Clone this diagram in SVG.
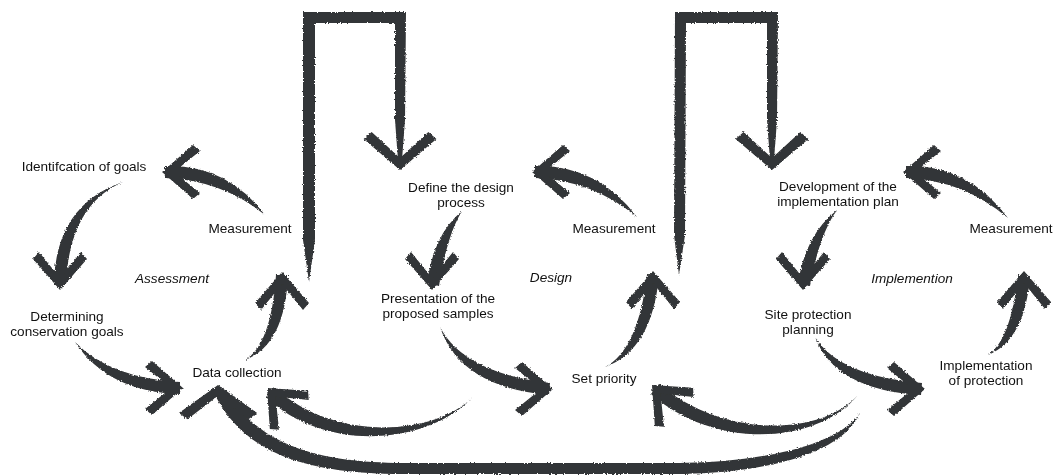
<svg xmlns="http://www.w3.org/2000/svg" width="1062" height="475" viewBox="0 0 1062 475">
<defs>
<style>
.lbl{font-family:"Liberation Sans",Arial,sans-serif;font-size:13.6px;fill:#111111;text-anchor:middle}
.it{font-style:italic}
.ink{fill:#333537}
</style>
<filter id="rough" filterUnits="userSpaceOnUse" x="0" y="0" width="1062" height="475">
<feTurbulence type="fractalNoise" baseFrequency="0.7" numOctaves="2" seed="3" result="n"/>
<feDisplacementMap in="SourceGraphic" in2="n" scale="3" xChannelSelector="R" yChannelSelector="G"/>
</filter>
<polygon id="chev" points="0,0 -31,-27 -38,-21 -12,0 -38,21 -31,27"/>
</defs>
<rect width="1062" height="475" fill="#ffffff"/>

<g id="connectors" class="ink" filter="url(#rough)">
<!-- big L arrows -->
<path d="M309,282 L303,240 L303,12 L406,12 L405,120 L402,160 L400,166 L398,160 L395,120 L395,23 L315,23 L315,240 Z"/>
<use href="#chev" transform="translate(400,170) rotate(90) scale(1,1.35)"/>
<path d="M679,275 L674,235 L675,12 L778,12 L777,120 L774,160 L772,166 L770,160 L767,120 L767,23 L686,23 L685,235 Z"/>
<use href="#chev" transform="translate(772,170) rotate(90) scale(1,1.35)"/>

<!-- Assessment cycle -->
<path d="M265,215 Q227,164 165,166 L165,178 Q222,180 265,215 Z"/>
<use href="#chev" transform="translate(162,172) rotate(180)"/>
<path d="M123,182 Q69,205 66,285 L54,285 Q55,205 123,182 Z"/>
<use href="#chev" transform="translate(60,290) rotate(90)"/>
<path d="M75,342 Q110,378 180,382 L180,394 Q108,392 75,342 Z"/>
<use href="#chev" transform="translate(183,388)"/>
<path d="M245,360 Q285,345 288,275 L276,275 Q271,345 245,360 Z"/>
<use href="#chev" transform="translate(282,272) rotate(-90)"/>

<!-- Design cycle -->
<path d="M637,217 Q597,164 535,166 L535,178 Q592,180 637,217 Z"/>
<use href="#chev" transform="translate(532,172) rotate(180)"/>
<path d="M462,211 Q447,235 439,286 L427,284 Q433,235 462,211 Z"/>
<use href="#chev" transform="translate(432,290) rotate(90)"/>
<path d="M440,327 Q464,373 550,383 L549,395 Q460,387 440,327 Z"/>
<use href="#chev" transform="translate(553,389)"/>
<path d="M605,367 Q652,350 659,276 L647,275 Q638,350 605,367 Z"/>
<use href="#chev" transform="translate(653,271) rotate(-90)"/>
<path d="M472,398 C432,436 334,442 274,387 L266,397 C326,454 428,444 472,398 Z"/>
<use href="#chev" transform="translate(267,388) rotate(225)"/>

<!-- Implementation cycle -->
<path d="M1008,218 Q968,164 906,166 L906,178 Q963,180 1008,218 Z"/>
<use href="#chev" transform="translate(903,172) rotate(180)"/>
<path d="M837,210 Q819,235 810,286 L798,284 Q805,235 837,210 Z"/>
<use href="#chev" transform="translate(803,290) rotate(90)"/>
<path d="M815,337 Q839,376 922,383 L921,395 Q835,390 815,337 Z"/>
<use href="#chev" transform="translate(925,389)"/>
<path d="M988,355 Q1025,340 1030,276 L1018,275 Q1011,340 988,355 Z"/>
<use href="#chev" transform="translate(1024,271) rotate(-90)"/>
<path d="M858,395 C822,436 724,439 659,384 L651,394 C716,451 818,444 858,395 Z"/>
<use href="#chev" transform="translate(652,385) rotate(225)"/>

<!-- long return arrow -->
<path d="M860,413 C838,446 760,462 680,463 L420,463 C332,464 262,452 226,390 L215,395 C250,464 328,475 420,474 L680,474 C762,473 842,455 860,413 Z"/>
<use href="#chev" transform="translate(218,385) rotate(-90) scale(0.9,1.45)"/>
</g>

<g id="node-identification"><text class="lbl" x="84" y="171">Identifcation of goals</text></g>
<g id="node-measurement-1"><text class="lbl" x="250" y="233">Measurement</text></g>
<g id="node-assessment"><text class="lbl it" x="172" y="283">Assessment</text></g>
<g id="node-determining"><text class="lbl" x="67" y="321">Determining</text><text class="lbl" x="67" y="336">conservation goals</text></g>
<g id="node-data-collection"><text class="lbl" x="237" y="377">Data collection</text></g>

<g id="node-define"><text class="lbl" x="461" y="192">Define the design</text><text class="lbl" x="461" y="207">process</text></g>
<g id="node-measurement-2"><text class="lbl" x="614" y="233">Measurement</text></g>
<g id="node-design"><text class="lbl it" x="551" y="282">Design</text></g>
<g id="node-presentation"><text class="lbl" x="438" y="303">Presentation of the</text><text class="lbl" x="438" y="318">proposed samples</text></g>
<g id="node-set-priority"><text class="lbl" x="604" y="383">Set priority</text></g>

<g id="node-development"><text class="lbl" x="838" y="191">Development of the</text><text class="lbl" x="838" y="206">implementation plan</text></g>
<g id="node-measurement-3"><text class="lbl" x="1011" y="233">Measurement</text></g>
<g id="node-implemention"><text class="lbl it" x="912" y="283">Implemention</text></g>
<g id="node-site-protection"><text class="lbl" x="808" y="319">Site protection</text><text class="lbl" x="808" y="334">planning</text></g>
<g id="node-implementation"><text class="lbl" x="986" y="370">Implementation</text><text class="lbl" x="986" y="385">of protection</text></g>
</svg>
